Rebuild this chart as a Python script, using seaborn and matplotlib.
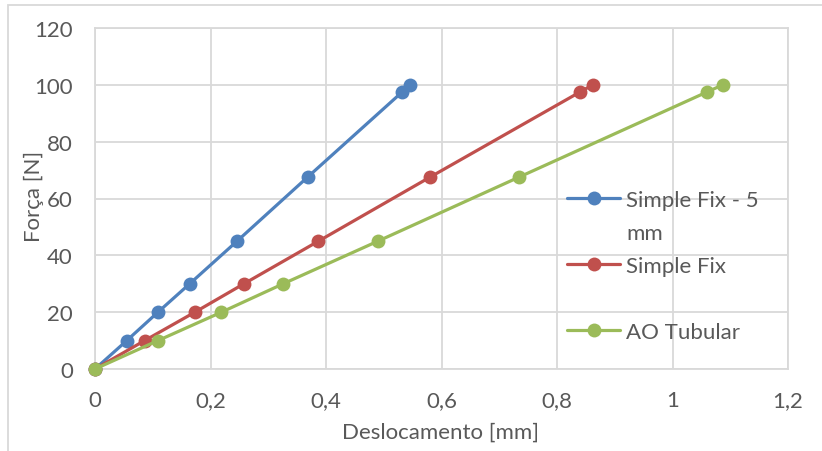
import numpy as np
import pandas as pd
import matplotlib
matplotlib.use("Agg")
import matplotlib.pyplot as plt
import seaborn as sns
from matplotlib.lines import Line2D
from matplotlib.patches import Rectangle

# ---- data ----
forca = [0, 10, 20, 30, 45, 67.5, 97.5, 100]
desl_sf5 = [0, 0.055, 0.109, 0.164, 0.246, 0.368, 0.532, 0.546]
desl_sf = [0, 0.086, 0.173, 0.258, 0.387, 0.580, 0.840, 0.862]
desl_ao = [0, 0.109, 0.219, 0.326, 0.490, 0.734, 1.060, 1.087]
series_names = ["Simple Fix - 5 mm", "Simple Fix", "AO Tubular"]
legend_labels = ["Simple Fix - 5", "mm", "Simple Fix", "", "AO Tubular", ""]
colors = ["#4F81BD", "#C0504D", "#9BBB59"]
x_ticks = [0, 0.2, 0.4, 0.6, 0.8, 1.0, 1.2]
x_tick_labels = ["0", "0,2", "0,4", "0,6", "0,8", "1", "1,2"]
y_ticks = [0, 20, 40, 60, 80, 100, 120]
x_label = "Deslocamento [mm]"
y_label = "Força [N]"

df = pd.concat([
    pd.DataFrame({"x": d, "y": forca, "serie": n})
    for d, n in zip([desl_sf5, desl_sf, desl_ao], series_names)
], ignore_index=True)

sns.set_theme(style="white")
plt.rcParams["font.family"] = ["Lato", "DejaVu Sans"]
text_color = "#595959"
grid_color = "#D9D9D9"
fs = 16

fig = plt.figure(figsize=(8.22, 4.52), dpi=100)
ax = fig.add_axes([95 / 822, 1 - 370 / 452, (788 - 95) / 822, (370 - 29) / 452])

sns.lineplot(data=df, x="x", y="y", hue="serie", palette=colors, ax=ax,
             marker="o", markersize=10, markeredgewidth=0, linewidth=2.3,
             sort=False, legend=False, zorder=3)

ax.set_xlim(0, 1.2)
ax.set_ylim(0, 120)
ax.set_xticks(x_ticks)
ax.set_xticklabels(x_tick_labels)
ax.set_yticks(y_ticks)
ax.grid(True, color=grid_color, linewidth=1.3)
ax.set_axisbelow(True)
for s in ax.spines.values():
    s.set_visible(True)
    s.set_color(grid_color)
    s.set_linewidth(1.3)
ax.tick_params(axis="both", length=0, labelsize=fs, colors=text_color)
ax.tick_params(axis="y", pad=16)
ax.tick_params(axis="x", pad=15)
ax.set_xlabel(x_label, fontsize=fs, color=text_color)
ax.set_ylabel(y_label, fontsize=fs, color=text_color)
ax.xaxis.set_label_coords(0.499, -(423 - 370) / 341)
ax.yaxis.set_label_coords((44 - 95) / 693, (370 - 196) / 341)
for l in ax.lines:
    l.set_clip_on(False)

handles = []
for c in colors:
    handles.append(Line2D([], [], color=c, marker="o", markersize=10,
                          markeredgewidth=0, linewidth=2.3))
    handles.append(Line2D([], [], linestyle="none"))
leg = ax.legend(handles, legend_labels, loc="upper left",
                bbox_to_anchor=(567 / 822, 1 - 191 / 452), bbox_transform=fig.transFigure,
                frameon=False, fontsize=fs, labelcolor=text_color,
                handlelength=2.4, handletextpad=0.25, labelspacing=0.58,
                borderpad=0, borderaxespad=0)

fig.patches.append(Rectangle((8 / 822, -0.1), 1.2, 1 - 6 / 452 + 0.1,
                             transform=fig.transFigure, fill=False,
                             edgecolor=grid_color, linewidth=1.3))

fig.savefig("out.png", dpi=100)
